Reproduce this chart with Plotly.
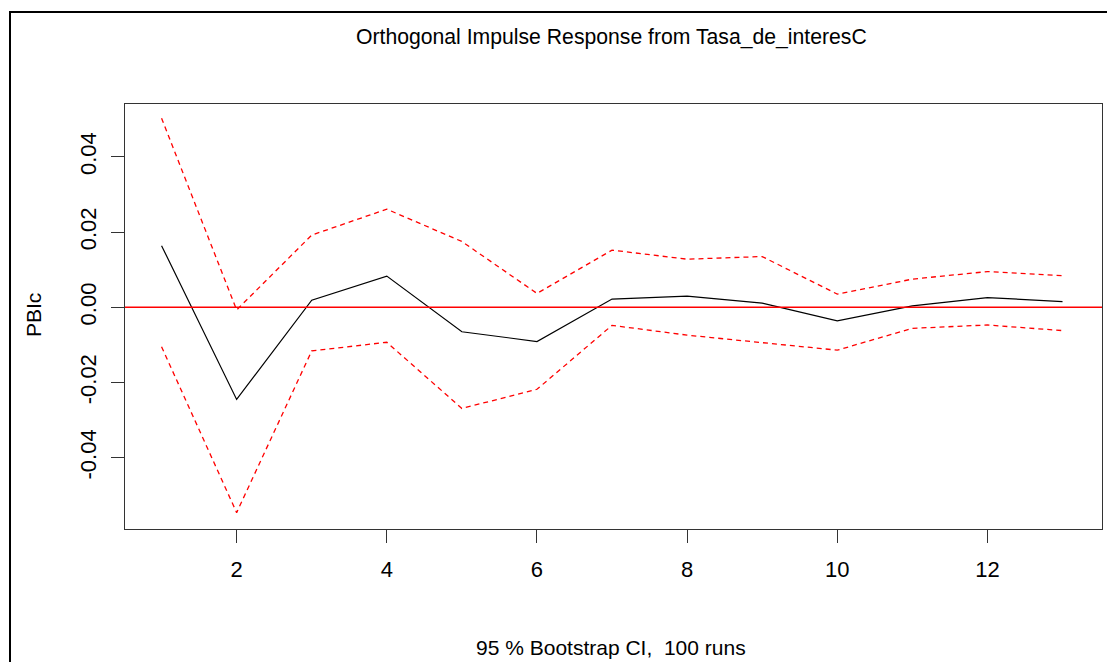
import plotly.graph_objects as go

# Orthogonal impulse response of PBIc to a shock in Tasa_de_interesC
periods = list(range(1, 14))
irf = [0.0164, -0.0245, 0.0019, 0.0083, -0.0065, -0.0091, 0.0022,
       0.0030, 0.0011, -0.0036, 0.0004, 0.0026, 0.0015]
upper = [0.0503, -0.0007, 0.0192, 0.0261, 0.0175, 0.0037, 0.0152,
         0.0128, 0.0135, 0.0035, 0.0075, 0.0095, 0.0084]
lower = [-0.0105, -0.0546, -0.0116, -0.0093, -0.0269, -0.0218, -0.0048,
         -0.0074, -0.0094, -0.0114, -0.0056, -0.0047, -0.0062]

x_ticks = [2, 4, 6, 8, 10, 12]
y_ticks = [-0.04, -0.02, 0.0, 0.02, 0.04]
y_tick_text = ["-0.04", "-0.02", "0.00", "0.02", "0.04"]

W, H = 1107, 662
L, R, T, B = 125, 5, 104, 133
pw, ph = W - L - R, H - T - B

FONT = "Liberation Sans, Arial, sans-serif"

fig = go.Figure()
fig.add_trace(go.Scatter(x=periods, y=upper, mode="lines",
                         line=dict(color="#ff0000", width=1.3, dash="5px,4px"),
                         hoverinfo="skip"))
fig.add_trace(go.Scatter(x=periods, y=lower, mode="lines",
                         line=dict(color="#ff0000", width=1.3, dash="5px,4px"),
                         hoverinfo="skip"))
fig.add_trace(go.Scatter(x=periods, y=irf, mode="lines",
                         line=dict(color="#000000", width=1.2)))

# horizontal reference line at zero
fig.add_shape(type="line", xref="paper", yref="y", x0=0, x1=1, y0=0, y1=0,
              line=dict(color="#ff0000", width=1.5), layer="above")

# outer frame (left and top edges visible)
px = lambda v: (v - L) / pw
py = lambda v: (H - B - v) / ph
fig.add_shape(type="rect", xref="paper", yref="paper",
              x0=px(10), x1=px(W + 20), y0=py(H + 20), y1=py(12),
              line=dict(color="#000000", width=2), layer="below")

axis_common = dict(showline=True, mirror=True, linecolor="#333333", linewidth=1.3,
                   ticks="outside", ticklen=13, tickwidth=1.3, tickcolor="#333333",
                   showgrid=False, zeroline=False,
                   tickfont=dict(family=FONT, size=22, color="#000000"))

fig.update_xaxes(range=[0.513, 13.526], tickvals=x_ticks, ticklabelstandoff=7,
                 **axis_common)
fig.update_yaxes(range=[-0.05896, 0.05407], tickvals=y_ticks, ticktext=y_tick_text,
                 tickangle=-90, ticklabelstandoff=6, **axis_common)

fig.add_annotation(text="Orthogonal Impulse Response from Tasa_de_interesC",
                   xref="paper", yref="paper", x=px(611), y=py(37),
                   xanchor="center", yanchor="middle", showarrow=False,
                   font=dict(family=FONT, size=21.2, color="#000000"))
fig.add_annotation(text="95 % Bootstrap CI,  100 runs",
                   xref="paper", yref="paper", x=px(611), y=py(647),
                   xanchor="center", yanchor="middle", showarrow=False,
                   font=dict(family=FONT, size=21, color="#000000"))
fig.add_annotation(text="PBIc", textangle=-90,
                   xref="paper", yref="paper", x=px(33), y=py(315),
                   xanchor="center", yanchor="middle", showarrow=False,
                   font=dict(family=FONT, size=21, color="#000000"))

fig.update_layout(width=W, height=H, margin=dict(l=L, r=R, t=T, b=B),
                  paper_bgcolor="#ffffff", plot_bgcolor="#ffffff",
                  showlegend=False)

fig.write_html("out.html")
